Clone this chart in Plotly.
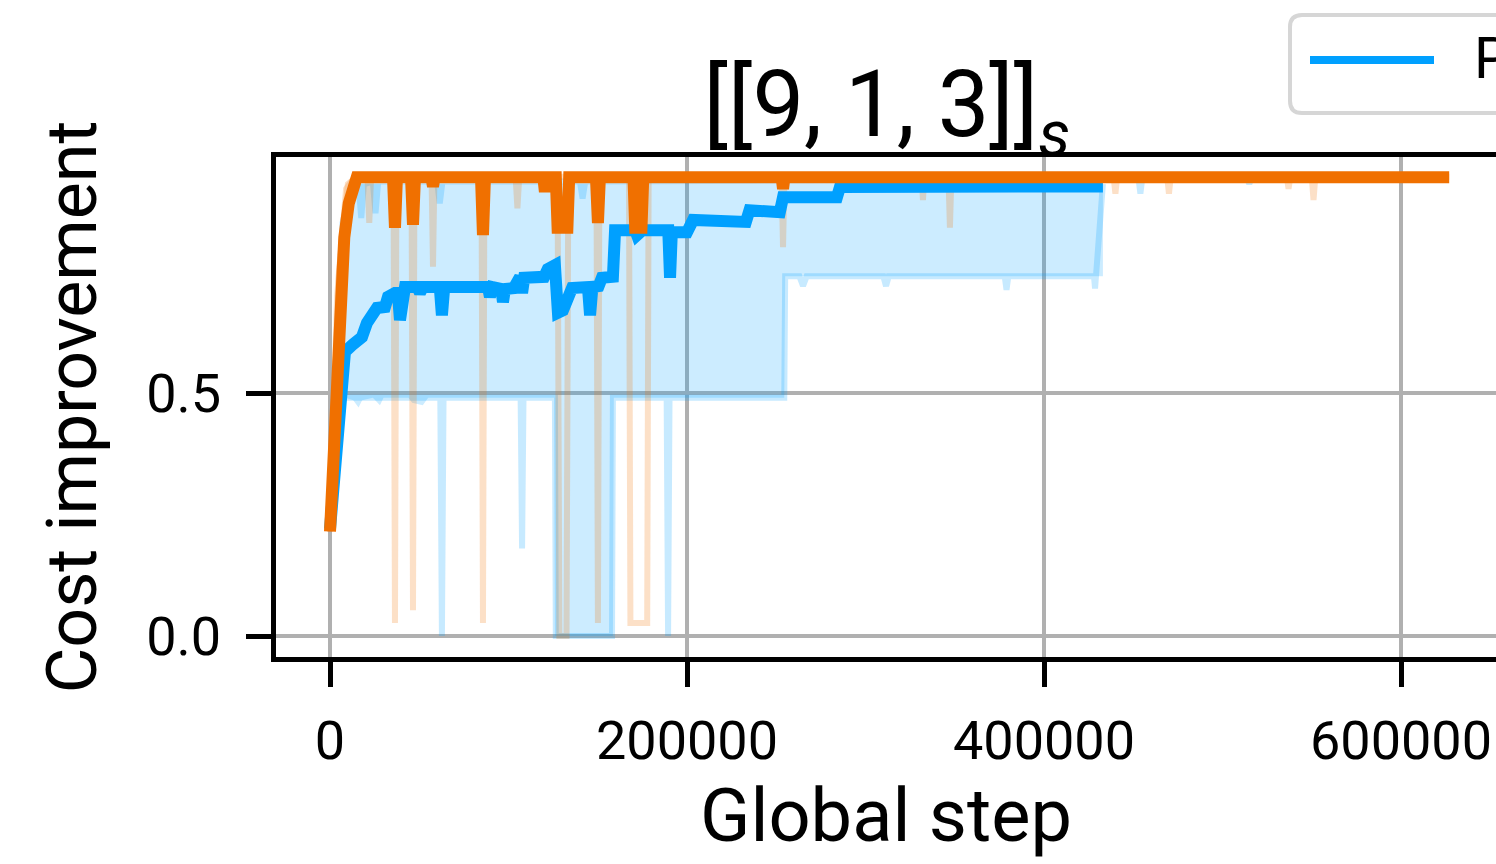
import plotly.graph_objects as go

# ---------------- data ----------------
blue_med_x = [0, 4500, 8400, 12900, 17900, 20700, 24000, 26300, 30800, 32500, 36400, 38000, 39200, 40500,
              42000, 49000, 50400, 52000, 61500, 62700, 64000, 88500, 89600, 91000, 96000, 96900, 98000,
              103000, 104800, 106500, 107600, 108800, 120000, 122000, 126000, 127700, 130500, 133000,
              135600, 144500, 145700, 147000, 150500, 152300, 158500, 159700, 171000, 172000, 175000,
              189500, 190500, 191500, 200000, 203400, 233000, 235000, 252000, 253800, 284000, 285700, 433000]
blue_med_y = [0.22, 0.44, 0.585, 0.60, 0.615, 0.644, 0.665, 0.675, 0.677, 0.698, 0.706, 0.706, 0.65, 0.706,
              0.718, 0.718, 0.706, 0.718, 0.718, 0.66, 0.718, 0.718, 0.698, 0.718, 0.714, 0.687, 0.714,
              0.716, 0.739, 0.739, 0.706, 0.737, 0.739, 0.755, 0.763, 0.665, 0.67, 0.69,
              0.716, 0.718, 0.66, 0.718, 0.72, 0.737, 0.739, 0.835, 0.835, 0.825, 0.835,
              0.835, 0.737, 0.831, 0.831, 0.856, 0.852, 0.876, 0.872, 0.903, 0.903, 0.924, 0.925]

orange_med_x = [0, 2000, 3900, 5600, 8000, 10500, 12500, 15000, 35300, 36400, 37500, 45400, 46500, 47600,
                56800, 57700, 58600, 84600, 85700, 86800, 119500, 120400, 121300, 126500, 127500, 133000,
                134000, 149000, 150100, 151200, 170000, 171000, 174500, 175500, 253000, 253800, 254600, 627000]
orange_med_y = [0.215, 0.38, 0.527, 0.706, 0.82, 0.89, 0.92, 0.944, 0.944, 0.84, 0.944, 0.944, 0.846, 0.944,
                0.944, 0.925, 0.944, 0.944, 0.825, 0.944, 0.944, 0.914, 0.944, 0.944, 0.84, 0.84,
                0.944, 0.944, 0.85, 0.944, 0.944, 0.84, 0.84, 0.944, 0.944, 0.92, 0.944, 0.944]

band_up_x = [0, 2500, 5000, 8000, 11000, 14000, 433000]
band_up_y = [0.22, 0.50, 0.72, 0.86, 0.91, 0.93, 0.932]
band_lo_x = [0, 3000, 6000, 8500, 13000, 16000, 18000, 24000, 28000, 30000, 44000, 46000, 52000, 55000,
             125500, 126000, 158500, 159000, 254500, 255000, 433000]
band_lo_y = [0.22, 0.40, 0.48, 0.49, 0.485, 0.47, 0.485, 0.49, 0.475, 0.49, 0.49, 0.48, 0.475, 0.49,
             0.49, 0.0, 0.0, 0.49, 0.49, 0.74, 0.74]

blue_run1_x = [0, 3000, 6000, 20000, 61800, 62700, 63600, 106800, 107600, 108400, 126000, 126500, 158000,
               158500, 188600, 189400, 190200, 254500, 255000, 263000, 265000, 267000, 310000, 311500, 313000,
               378000, 379000, 380000, 428000, 428600, 429200, 433000]
blue_run1_y = [0.22, 0.42, 0.49, 0.49, 0.49, 0.0, 0.49, 0.49, 0.18, 0.49, 0.49, 0.0, 0.0,
               0.49, 0.49, 0.0, 0.49, 0.49, 0.74, 0.74, 0.72, 0.74, 0.74, 0.72, 0.74,
               0.74, 0.712, 0.74, 0.74, 0.715, 0.74, 0.93]
blue_run2_x = [0, 3000, 7000, 12000, 16000, 17500, 19000, 24000, 25500, 27000, 60000, 61500, 63000,
               140000, 141500, 143000, 453000, 454000, 455000, 514000, 515000, 516000, 520000]
blue_run2_y = [0.22, 0.55, 0.85, 0.925, 0.93, 0.86, 0.93, 0.935, 0.87, 0.935, 0.935, 0.89, 0.935,
               0.935, 0.90, 0.935, 0.94, 0.91, 0.94, 0.94, 0.93, 0.94, 0.94]

orange_run1_x = [0, 5000, 10000, 15000, 35600, 36400, 37200, 56900, 57700, 58500, 84900, 85700, 86500,
                 104000, 105000, 106000, 149300, 150100, 150900, 331500, 332200, 332900, 439000, 440000,
                 441000, 469000, 470000, 471000, 550000, 551000, 552000, 627000]
orange_run1_y = [0.215, 0.75, 0.93, 0.945, 0.945, 0.027, 0.945, 0.945, 0.76, 0.945, 0.945, 0.027, 0.945,
                 0.945, 0.88, 0.945, 0.945, 0.027, 0.945, 0.945, 0.897, 0.945, 0.945, 0.91,
                 0.945, 0.945, 0.91, 0.945, 0.945, 0.897, 0.945, 0.945]
orange_run2_x = [0, 4000, 9000, 14000, 21000, 22000, 23000, 45700, 46500, 47300, 127500, 128500, 132500,
                 133500, 167500, 168300, 177700, 178500, 253000, 253800, 254600, 346500, 347300, 348100,
                 536000, 537000, 538000, 627000]
orange_run2_y = [0.215, 0.70, 0.92, 0.945, 0.945, 0.85, 0.945, 0.945, 0.053, 0.945, 0.945, 0.0, 0.0,
                 0.945, 0.945, 0.027, 0.027, 0.945, 0.945, 0.80, 0.945, 0.945, 0.84, 0.945,
                 0.945, 0.92, 0.945, 0.945]

x_ticks = [0, 200000, 400000, 600000]
x_tick_text = ["0", "200000", "400000", "600000"]
y_ticks = [0.0, 0.5]
y_tick_text = ["0.0", "0.5"]

legend_labels = ["PPO"]

# ---------------- styling ----------------
BLUE = "#00A0FF"
ORANGE = "#F07000"
FONT = "Roboto"
W, H = 1496, 864
ML, MT, MB, MR = 276, 157, 207, 0
PW, PH = W - ML - MR, H - MT - MB

fig = go.Figure()

# blue band (polygon: upper edge then reversed lower edge)
fig.add_trace(go.Scatter(
    x=band_up_x + band_lo_x[::-1], y=band_up_y + band_lo_y[::-1],
    fill="toself", fillcolor="rgba(0,160,255,0.2)", line=dict(width=0),
    mode="lines", showlegend=False, hoverinfo="skip"))

for xs, ys in [(blue_run1_x, blue_run1_y), (blue_run2_x, blue_run2_y)]:
    fig.add_trace(go.Scatter(x=xs, y=ys, mode="lines", line=dict(color="rgba(0,160,255,0.22)", width=6),
                             showlegend=False))
for xs, ys in [(orange_run1_x, orange_run1_y), (orange_run2_x, orange_run2_y)]:
    fig.add_trace(go.Scatter(x=xs, y=ys, mode="lines", line=dict(color="rgba(240,112,0,0.22)", width=6),
                             showlegend=False))

fig.add_trace(go.Scatter(x=blue_med_x, y=blue_med_y, mode="lines", name=legend_labels[0],
                         line=dict(color=BLUE, width=12), showlegend=False))
fig.add_trace(go.Scatter(x=orange_med_x, y=orange_med_y, mode="lines", name="orange",
                         line=dict(color=ORANGE, width=12), showlegend=False))

# axis ranges chosen so that ticks land at the reference pixel positions
px_per_x = 357 / 200000.0
x0_px = 330
x_range = [(ML - x0_px) / px_per_x, (W - MR - x0_px) / px_per_x]
px_per_y = 486.0
y0_px = 636
y_range = [(y0_px - (MT + PH)) / px_per_y, (y0_px - MT) / px_per_y]

axis_common = dict(showgrid=True, gridcolor="#b0b0b0", gridwidth=4, zeroline=False,
                   showline=True, linecolor="black", linewidth=5,
                   ticks="outside", ticklen=25, tickwidth=5, tickcolor="black",
                   tickfont=dict(family=FONT, size=54, color="black"))

fig.update_xaxes(range=x_range, tickvals=x_ticks, ticktext=x_tick_text, mirror=True, ticklabelstandoff=7,
                 title=dict(text="Global step", font=dict(family=FONT, size=74, color="black"), standoff=20),
                 **axis_common)
fig.update_yaxes(range=y_range, tickvals=y_ticks, ticktext=y_tick_text, mirror=False, ticklabelstandoff=14,
                 title=dict(text="Cost improvement", font=dict(family=FONT, size=70, color="black"), standoff=28),
                 **axis_common)

# legend drawn by hand (cut by the right edge as in the reference)
def px2paper_x(p):
    return (p - ML) / PW

def px2paper_y(p):
    return (MT + PH - p) / PH

lx0, lx1, ly0, ly1, r = 1290, 1540, 15, 113, 12
path = (f"M {px2paper_x(lx0 + r)},{px2paper_y(ly0)} L {px2paper_x(lx1)},{px2paper_y(ly0)} "
        f"L {px2paper_x(lx1)},{px2paper_y(ly1)} L {px2paper_x(lx0 + r)},{px2paper_y(ly1)} "
        f"Q {px2paper_x(lx0)},{px2paper_y(ly1)} {px2paper_x(lx0)},{px2paper_y(ly1 - r)} "
        f"L {px2paper_x(lx0)},{px2paper_y(ly0 + r)} "
        f"Q {px2paper_x(lx0)},{px2paper_y(ly0)} {px2paper_x(lx0 + r)},{px2paper_y(ly0)} Z")
fig.add_shape(type="path", path=path, xref="paper", yref="paper",
              line=dict(color="#d6d6d6", width=4), fillcolor="rgba(255,255,255,0.85)", layer="above")
fig.add_shape(type="line", xref="paper", yref="paper",
              x0=px2paper_x(1310), x1=px2paper_x(1434), y0=px2paper_y(60), y1=px2paper_y(60),
              line=dict(color=BLUE, width=8), layer="above")
fig.add_annotation(text=legend_labels[0], xref="paper", yref="paper", x=px2paper_x(1472), y=px2paper_y(58),
                   xanchor="left", yanchor="middle", showarrow=False,
                   font=dict(family=FONT, size=57, color="black"))

fig.update_layout(
    width=W, height=H,
    margin=dict(l=ML, r=MR, t=MT, b=MB, autoexpand=False),
    paper_bgcolor="white", plot_bgcolor="white",
    showlegend=False,
    title=dict(text="[[9, 1, 3]]<sub><i>s</i></sub>", x=px2paper_x(887), xref="paper", xanchor="center",
               y=1 - 104 / H, yref="container", yanchor="middle",
               font=dict(family=FONT, size=92, color="black")),
)

fig.write_html("out.html")
